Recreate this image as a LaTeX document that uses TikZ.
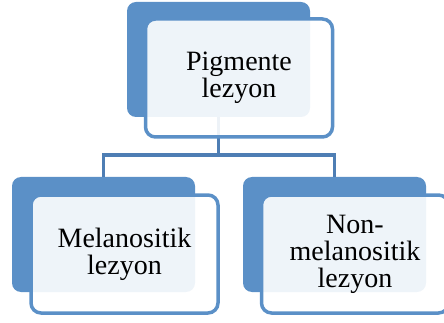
\documentclass[tikz,border=0pt]{standalone}
\usepackage{fontspec}
\setmainfont{Liberation Serif}
\definecolor{boxblue}{RGB}{91,144,199}
\definecolor{linkblue}{RGB}{78,126,180}
\tikzset{
  backbox/.style={rectangle, rounded corners=9pt, fill=boxblue,
    minimum width=183pt, minimum height=115pt, inner sep=0pt},
  frontbox/.style={rectangle, rounded corners=10pt, draw=boxblue,
    line width=3.5pt, fill=white, fill opacity=0.9, text opacity=1,
    minimum width=187pt, minimum height=118pt, inner sep=0pt,
    align=center, font=\fontsize{28}{27}\selectfont},
  link/.style={draw=linkblue, line width=3.5pt}
}
\begin{document}
\begin{tikzpicture}[x=1pt,y=-1pt]
  \useasboundingbox (0,0) rectangle (444,323);
  % back boxes
  \node[backbox] (pigback) at (218.5,59.5) {};
  \node[backbox] (melback) at (103.5,234.5) {};
  \node[backbox] (nonback) at (334.5,234.5) {};
  % connectors
  \draw[link] (pigback.south) -- ++(0,38) coordinate (fork);
  \draw[link] (fork) -| (melback.north);
  \draw[link] (fork) -| (nonback.north);
  % front boxes
  \node[frontbox] (pig) at (239,78) {\raisebox{-4pt}{Pigmente}\\\raisebox{-4pt}{lezyon}};
  \node[frontbox] (mel) at (124.5,254) {Melanositik\\lezyon};
  \node[frontbox] (non) at (355,254) {Non-\\melanositik\\lezyon};
\end{tikzpicture}
\end{document}
